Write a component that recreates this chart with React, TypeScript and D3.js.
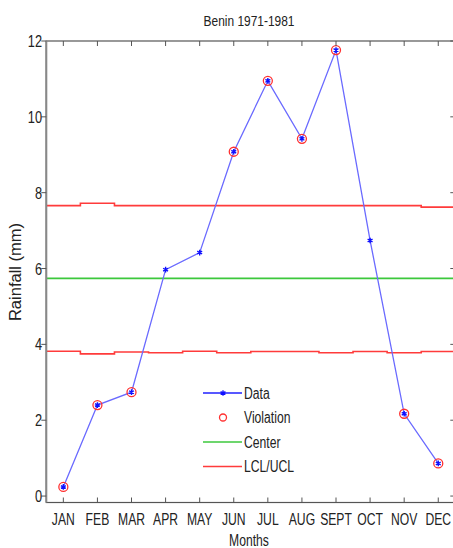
import { useEffect, useRef } from "react";
import * as d3 from "d3";

const months = ["JAN", "FEB", "MAR", "APR", "MAY", "JUN", "JUL", "AUG", "SEPT", "OCT", "NOV", "DEC"];
const rainfall = [0.24, 2.4, 2.74, 5.97, 6.42, 9.08, 10.95, 9.42, 11.76, 6.74, 2.17, 0.86];
const center = [5.74, 5.74, 5.74, 5.74, 5.74, 5.74, 5.74, 5.74, 5.74, 5.74, 5.74, 5.74];
const ucl = [7.66, 7.72, 7.66, 7.66, 7.66, 7.66, 7.66, 7.66, 7.66, 7.66, 7.66, 7.62];
const lcl = [3.82, 3.75, 3.8, 3.78, 3.82, 3.78, 3.81, 3.81, 3.78, 3.81, 3.78, 3.81];
const yTicks = [0, 2, 4, 6, 8, 10, 12];

const W = 453;
const H = 548;
const FONT = "'Liberation Sans', Arial, sans-serif";

type Sel = d3.Selection<any, unknown, null, undefined>;

// narrow text: Liberation Sans squeezed horizontally, like Arial Narrow
function narrowText(parent: Sel, x: number, y: number, str: string, size: number, anchor = "start", sx = 0.78) {
  parent
    .append("text")
    .attr("transform", `translate(${x},${y}) scale(${sx},1)`)
    .attr("text-anchor", anchor)
    .attr("font-family", FONT)
    .attr("font-size", size)
    .attr("fill", "#222")
    .text(str);
}

export default function App() {
  const svgRef = useRef<SVGSVGElement>(null);

  useEffect(() => {
    if (!svgRef.current) return;
    const svg = d3.select(svgRef.current);
    svg.selectAll("*").remove();

    const left = 46.3;
    const right = 455.3;
    const top = 41;
    const bottom = 502.5;

    const x = d3.scaleLinear().domain([0.5, 12.5]).range([left, right]);
    const y = d3.scaleLinear().domain([-0.17, 12]).range([bottom, top]);

    svg.append("rect").attr("width", W).attr("height", H).attr("fill", "#fff");

    svg
      .append("defs")
      .append("clipPath")
      .attr("id", "plot")
      .append("rect")
      .attr("x", left)
      .attr("y", top)
      .attr("width", right - left)
      .attr("height", bottom - top);

    const plot = svg.append("g").attr("clip-path", "url(#plot)");

    // step lines for limits, one flat piece per month
    const steps = (vals: number[]) =>
      vals.flatMap((v, i) => [
        [i + 0.5, v],
        [i + 1.5, v],
      ]) as [number, number][];

    const line = d3
      .line<[number, number]>()
      .x((d) => x(d[0]))
      .y((d) => y(d[1]));

    [
      { vals: ucl, color: "#ff3b3b" },
      { vals: lcl, color: "#ff3b3b" },
      { vals: center, color: "#3cc83c" },
    ].forEach((s) => {
      plot
        .append("path")
        .attr("d", line(steps(s.vals)))
        .attr("fill", "none")
        .attr("stroke", s.color)
        .attr("stroke-width", 1.6);
    });

    // data line
    const pts = rainfall.map((v, i) => [i + 1, v]) as [number, number][];
    plot
      .append("path")
      .attr("d", line(pts))
      .attr("fill", "none")
      .attr("stroke", "#6a6aff")
      .attr("stroke-width", 1.3);

    // violations
    plot
      .selectAll(".viol")
      .data(pts.filter((d, i) => d[1] > ucl[i] || d[1] < lcl[i]))
      .enter()
      .append("circle")
      .attr("cx", (d) => x(d[0]))
      .attr("cy", (d) => y(d[1]))
      .attr("r", 4.5)
      .attr("fill", "none")
      .attr("stroke", "#ff3030")
      .attr("stroke-width", 1.3);

    const star = d3.symbol(d3.symbolAsterisk, 22);
    plot
      .selectAll(".pt")
      .data(pts)
      .enter()
      .append("path")
      .attr("transform", (d) => `translate(${x(d[0])},${y(d[1])})`)
      .attr("d", star())
      .attr("fill", "none")
      .attr("stroke", "#1010ff")
      .attr("stroke-width", 1.4);

    // axes box
    const axisColor = "#555";
    svg
      .append("rect")
      .attr("x", left)
      .attr("y", top)
      .attr("width", right - left)
      .attr("height", bottom - top)
      .attr("fill", "none")
      .attr("stroke", axisColor)
      .attr("stroke-width", 1.2);
    svg
      .append("line")
      .attr("x1", left)
      .attr("x2", left)
      .attr("y1", top)
      .attr("y2", bottom)
      .attr("stroke", "#888")
      .attr("stroke-width", 2);

    // x ticks
    months.forEach((m, i) => {
      const xi = x(i + 1);
      svg.append("line").attr("x1", xi).attr("x2", xi).attr("y1", bottom).attr("y2", bottom - 5).attr("stroke", axisColor);
      svg.append("line").attr("x1", xi).attr("x2", xi).attr("y1", top).attr("y2", top + 5).attr("stroke", axisColor);
      narrowText(svg, xi, 525, m, 16, "middle", 0.76);
    });

    // y ticks
    yTicks.forEach((t) => {
      const yi = y(t);
      svg.append("line").attr("x1", left - 5).attr("x2", left).attr("y1", yi).attr("y2", yi).attr("stroke", axisColor);
      svg.append("line").attr("x1", right - 5).attr("x2", right).attr("y1", yi).attr("y2", yi).attr("stroke", axisColor);
      narrowText(svg, 42, yi + 6, String(t), 16, "end", 0.8);
    });

    narrowText(svg, 249, 25.5, "Benin 1971-1981", 15.5, "middle", 0.77);
    narrowText(svg, 249, 546, "Months", 16, "middle", 0.76);

    svg
      .append("text")
      .attr("transform", `translate(21,272) rotate(-90)`)
      .attr("text-anchor", "middle")
      .attr("font-family", FONT)
      .attr("font-size", 16.5)
      .attr("fill", "#222")
      .text("Rainfall (mm)");

    // legend
    const legend = svg.append("g").attr("transform", "translate(203,393)");
    const legendData = [
      { label: "Data", kind: "data" },
      { label: "Violation", kind: "viol" },
      { label: "Center", kind: "center" },
      { label: "LCL/UCL", kind: "limit" },
    ];
    legendData.forEach((d, i) => {
      const g = legend.append("g").attr("transform", `translate(0,${i * 24.5})`);
      if (d.kind === "viol") {
        g.append("circle").attr("cx", 20).attr("cy", 0).attr("r", 3.5).attr("fill", "none").attr("stroke", "#ff3030").attr("stroke-width", 1.3);
      } else {
        const color = d.kind === "data" ? "#2020ff" : d.kind === "center" ? "#3cc83c" : "#ff3b3b";
        g.append("line").attr("x1", 0).attr("x2", 39).attr("y1", 0).attr("y2", 0).attr("stroke", color).attr("stroke-width", 1.5);
        if (d.kind === "data") {
          g.append("path").attr("transform", "translate(20,0)").attr("d", star()).attr("fill", "none").attr("stroke", "#1010ff").attr("stroke-width", 1.3);
        }
      }
      narrowText(g, 41, 5.5, d.label, 16, "start", 0.76);
    });
  }, []);

  return (
    <svg
      ref={svgRef}
      width={W}
      height={H}
      style={{ position: "absolute", left: 0, top: 0, display: "block" }}
    ></svg>
  );
}
